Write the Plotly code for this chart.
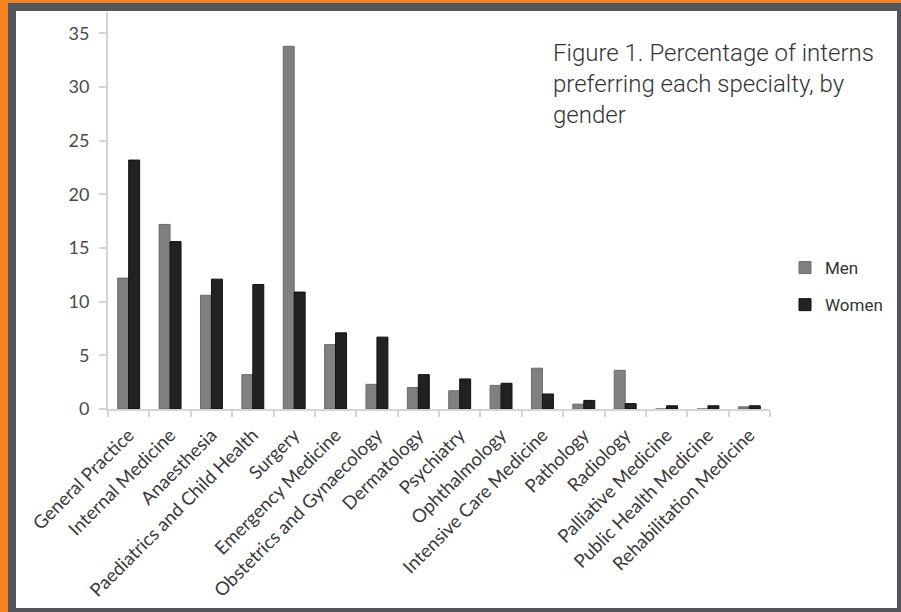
import plotly.graph_objects as go

categories = ["General Practice", "Internal Medicine", "Anaesthesia",
              "Paediatrics and Child Health", "Surgery", "Emergency Medicine",
              "Obstetrics and Gynaecology", "Dermatology", "Psychiatry",
              "Ophthalmology", "Intensive Care Medicine", "Pathology",
              "Radiology", "Palliative Medicine", "Public Health Medicine",
              "Rehabilitation Medicine"]
men = [12.2, 17.2, 10.6, 3.2, 33.8, 6.0, 2.3, 2.0, 1.7, 2.2, 3.8, 0.45, 3.6, 0.0, 0.0, 0.2]
women = [23.2, 15.6, 12.1, 11.6, 10.9, 7.1, 6.7, 3.2, 2.8, 2.4, 1.4, 0.8, 0.5, 0.3, 0.3, 0.3]
y_ticks = [0, 5, 10, 15, 20, 25, 30, 35]
title_text = "Figure 1. Percentage of interns<br>preferring each specialty, by<br>gender"

W, H = 901, 612
L, R, T, B = 108, 131, 12, 203
PW, PH = W - L - R, H - T - B


def px(x):
    return (x - L) / PW


def py(y):
    return (H - B - y) / PH


fig = go.Figure()
fig.add_trace(go.Bar(x=categories, y=men, name="Men", legendgroup="m",
                     marker=dict(color="#808080", line=dict(color="#6a6a6a", width=1))))
fig.add_trace(go.Bar(x=categories, y=women, name="Women", legendgroup="w",
                     marker=dict(color="#222222", line=dict(color="#111111", width=1))))

fig.update_layout(
    width=W, height=H,
    margin=dict(l=L, r=R, t=T, b=B, autoexpand=False),
    paper_bgcolor="#f58220",
    plot_bgcolor="rgba(0,0,0,0)",
    bargap=0.47, bargroupgap=0,
    font=dict(family="Lato", size=18, color="#3a3a3a"),
    showlegend=True,
    legend=dict(x=px(785), y=py(250), xanchor="left", yanchor="top",
                font=dict(family="Roboto", size=17, color="#333333"),
                tracegroupgap=12, itemwidth=30, bgcolor="rgba(0,0,0,0)"),
    shapes=[
        dict(type="rect", xref="paper", yref="paper", layer="below",
             x0=px(8), x1=px(905), y0=py(616), y1=py(3),
             fillcolor="#54565a", line=dict(width=0)),
        dict(type="rect", xref="paper", yref="paper", layer="below",
             x0=px(16), x1=px(897), y0=py(608), y1=py(11),
             fillcolor="#ffffff", line=dict(width=0)),
    ],
    annotations=[
        dict(text=title_text, xref="paper", yref="paper", x=px(551), y=py(37),
             xanchor="left", yanchor="top", align="left", showarrow=False,
             font=dict(family="Roboto", size=24, color="#333333", weight=300)),
    ],
)

fig.update_xaxes(
    type="category", showline=True, linecolor="#d4d4d4", linewidth=2,
    ticks="outside", tickson="boundaries", ticklen=6, tickcolor="#d4d4d4", tickwidth=1.5,
    tickangle=-45, tickfont=dict(family="Lato", size=18.5, color="#3a3a3a"),
    showgrid=False, automargin=False, ticklabelstandoff=6,
)
fig.update_yaxes(
    range=[0, 37], tickvals=y_ticks, showline=True, linecolor="#d4d4d4", linewidth=2,
    ticks="outside", ticklen=7, tickcolor="#d4d4d4", tickwidth=1.5,
    tickfont=dict(family="Lato", size=18, color="#4a4a4a"),
    showgrid=False, zeroline=False, automargin=False, ticklabelstandoff=6,
)

fig.write_html("out.html", config={"displayModeBar": False},
               post_script="document.body.style.margin='0';document.body.style.overflow='hidden';")
